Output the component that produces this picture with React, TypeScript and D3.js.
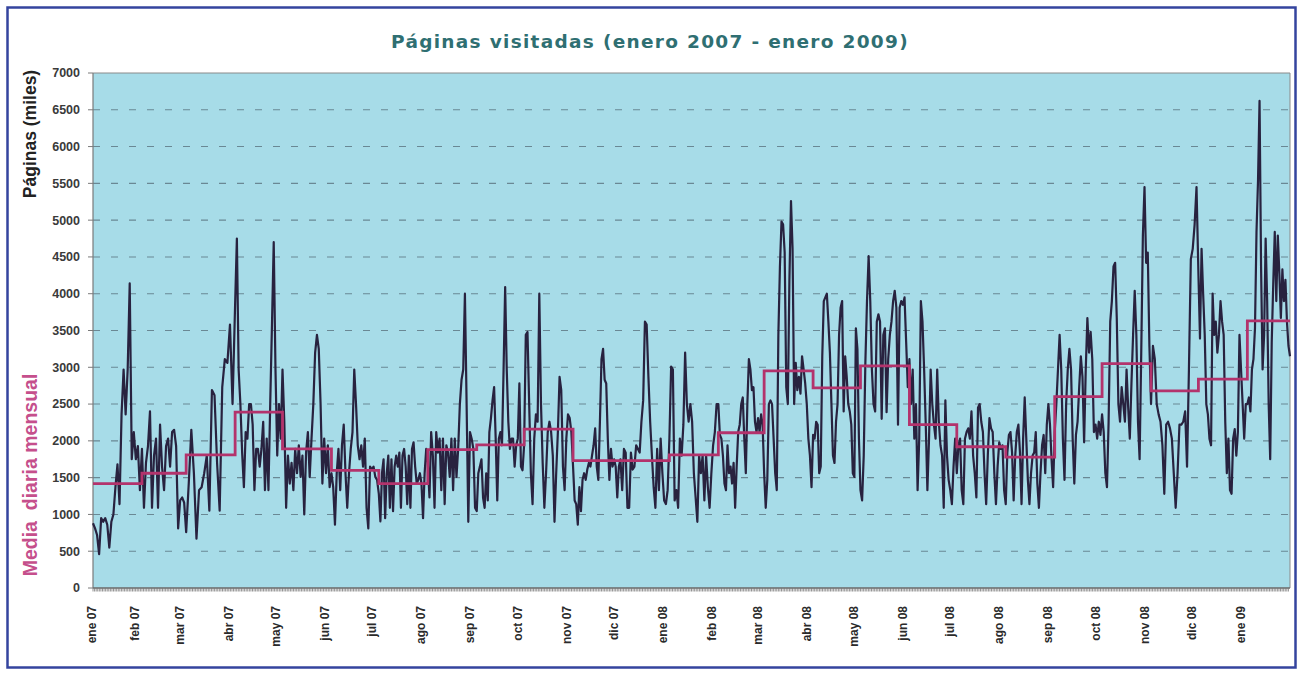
import React from 'react';
import * as d3 from 'd3';

const monthLabels = [
  'ene 07', 'feb 07', 'mar 07', 'abr 07', 'may 07', 'jun 07', 'jul 07', 'ago 07', 'sep 07', 'oct 07', 'nov 07', 'dic 07',
  'ene 08', 'feb 08', 'mar 08', 'abr 08', 'may 08', 'jun 08', 'jul 08', 'ago 08', 'sep 08', 'oct 08', 'nov 08', 'dic 08',
  'ene 09',
];

const monthlyMean = [
  1420, 1560, 1810, 2390, 1890, 1600, 1420, 1880, 1945, 2160, 1730, 1730,
  1810, 2110, 2950, 2720, 3020, 2220, 1920, 1780, 2600, 3050, 2680, 2840,
  3630,
];

const daily2007 = [
  [880, 810, 720, 460, 950, 900, 950, 860, 550, 900, 1000, 1370, 1680, 1140, 2360, 2970, 2360, 2970, 4140, 1750, 2120, 1750, 1930, 1330],
  [1890, 1090, 1700, 1930, 2400, 1090, 1800, 2030, 1090, 2220, 1650, 1330, 1930, 2030, 1650, 2120, 2150, 1930, 810, 1190, 1230, 1160],
  [760, 1420, 2150, 1560, 670, 1330, 1370, 1560, 1800, 1050, 2690, 2620, 1700, 1050, 2730, 3110, 3060, 3580, 2500],
  [3860, 4750, 2970, 2500, 1840, 1370, 2120, 2030, 2500, 2500, 2220, 1330, 1890, 1890, 1650, 1890, 2260, 1330, 2030, 1330, 2500, 3580, 4700, 2970, 1800, 2500, 2030],
  [2970, 2260, 1090, 1800, 1420, 1700, 1330, 1890, 1560, 1940, 1510, 1800, 1000, 1840, 2120, 1510, 2030, 2500, 3200, 3440, 3250, 2500, 1420, 2030, 1560, 1940, 1370],
  [1560, 1370, 860, 1560, 1890, 1330, 1940, 2220, 1560, 1090, 1560, 1890, 2120, 2970, 2500, 1940, 1750, 1940, 1650, 2030, 1090, 810, 1650, 1610, 1650, 1510, 1470],
  [1280, 905, 1560, 1750, 950, 1560, 1800, 1090, 1750, 1045, 1650, 1800, 1650, 1840, 1090, 1800, 1890, 1650, 1140, 1800, 1090, 1890, 1980, 1650, 1420, 1470, 1560, 1420, 950, 1560, 1890],
  [1700, 1230, 2120, 1800, 1090, 2120, 1840, 2030, 1330, 2030, 1140, 1940, 1840, 1510, 2030, 1330, 2030, 1510, 1890, 2500, 2830, 2970, 4000, 2500, 900, 2120, 2030, 1890, 1090],
  [1045, 1560, 1650, 1750, 1230, 1090, 1560, 1190, 2120, 2310, 2550, 2730, 2030, 1190, 2030, 2120, 1940, 2970, 4090, 2970, 2260, 1890, 2030, 2030, 1650, 1940, 2030, 2780, 1650, 1600],
  [1940, 3440, 3480, 2500, 1560, 1140, 2030, 2360, 2260, 4000, 2500, 1700, 1090, 1560, 2120, 2260, 2120, 1800, 900, 1560, 2120, 2870, 2690, 1650, 1330, 2030, 2360, 2310, 2120],
  [1650, 1190, 1140, 860, 1370, 1045, 1470, 1560, 1470, 1610, 1700, 1650, 1800, 1940, 2170, 1650, 1470, 2260, 3110, 3250, 2830, 2780, 2030, 1470, 1890, 1650, 1750, 1650, 1230, 1650],
  [1750, 1330, 1890, 1840, 1090, 1090, 1840, 1610, 1650, 1940, 1890, 1840, 2260, 2550, 3620, 3580, 2870, 2260, 1800, 1370, 1090, 1890, 1330, 2030, 1560, 1190, 1140, 1330],
];

const daily2008 = [
  [2030, 3010, 2970, 1190, 1330, 1090, 2030, 1800, 2220, 3200, 2500, 2260, 2500, 2260, 1560, 1230, 900, 1800, 1560, 1800, 1190, 1800, 1370, 1090, 1560, 1940, 2120, 2500],
  [2500, 2080, 2030, 1800, 1420, 1330, 1940, 1560, 1650, 1420, 1700, 1090, 1650, 2120, 2220, 2500, 2590, 2030, 1560, 2500, 3110, 2970, 2690, 2730, 2260, 2120, 2310, 2120, 2360, 2220],
  [1560, 1090, 1470, 2500, 2550, 2500, 2030, 1560, 1330, 3440, 4370, 4980, 4940, 4560, 2730, 2500, 4190, 5260, 4610, 2500, 3060, 2690, 2870, 2640, 3150, 2970, 2780, 2500, 2030, 1800, 1370],
  [2080, 2030, 2260, 2220, 1560, 1650, 3150, 3900, 3950, 4000, 3620, 3200, 2500, 1800, 1700, 2260, 2500, 3440, 3810, 3900, 2400, 3150, 2870, 2500, 2400, 2220, 1560, 1510, 3530, 3250, 2030],
  [1330, 1190, 1800, 3060, 3900, 4510, 3900, 2970, 2500, 2400, 3620, 3720, 3620, 2300, 3440, 3530, 2390, 3110, 3440, 3620, 3900, 4040, 3810, 2220, 3810, 3900, 3850, 3950, 3340, 2730],
  [3110, 2500, 2970, 2030, 2500, 1330, 2030, 3900, 3620, 2970, 2220, 1330, 2030, 2970, 2500, 2220, 2030, 2970, 2260, 1940, 1800, 1090, 2550, 1800, 1470, 1330, 1140, 1650, 2030],
  [1560, 1940, 2030, 1330, 1140, 2030, 2120, 2170, 2030, 2400, 1800, 1560, 1230, 2450, 2500, 2260, 2120, 1560, 1140, 1800, 2310, 2170, 2120, 1560, 1140, 1650, 1980, 1890, 1940, 1330],
  [1140, 1840, 2080, 2120, 1840, 1190, 1800, 2120, 2220, 1840, 1140, 2030, 2590, 2030, 1470, 1140, 1560, 1800, 1840, 2120, 1420, 1090, 1560, 1940, 2080, 1560, 2220, 2500, 2220, 1750, 1370],
  [2120, 2500, 2970, 3440, 2970, 2030, 1470, 2500, 2970, 3250, 2970, 2030, 1420, 2080, 2260, 2730, 3150, 2870, 1980, 2970, 3670, 3200, 3480, 3110, 2120, 2220, 2030, 2260, 2080],
  [2360, 2120, 1560, 1370, 2260, 3620, 3900, 4370, 4420, 3670, 2500, 2260, 2730, 2500, 2260, 2970, 2450, 2030, 2780, 3440, 4040, 3440, 2260, 1750, 3200, 4790, 5450, 4420, 4560, 3290],
  [2500, 3290, 3110, 2500, 2360, 2260, 1940, 1280, 2220, 2260, 2170, 2030, 1560, 1090, 1560, 2220, 2220, 2260, 2400, 1650, 2970, 4470, 4610, 4940, 5450],
  [4280, 3390, 4610, 4000, 3440, 2500, 2360, 2030, 1940, 4000, 3440, 3620, 3200, 3440, 3900, 3620, 3440, 2260, 1560, 2030, 1330, 1280, 2030, 2160, 1800, 2120, 3440, 2970, 2500, 2030, 2500],
];

const daily2009 = [
  [2500, 2590, 2400, 2970, 3110, 3530, 4840, 5540, 6620, 4370, 2970, 3440, 4750, 3900, 2500, 1750, 3340, 4140, 4840, 3900, 4790, 4280, 3670, 4330, 3900, 4190, 3620, 3290, 3150],
];

const yTicks = [0, 500, 1000, 1500, 2000, 2500, 3000, 3500, 4000, 4500, 5000, 5500, 6000, 6500, 7000];

const W = 1299;
const H = 676;
const P = { left: 93, right: 1290, top: 73, bottom: 588 };

export default function App() {
  const start = new Date(Date.UTC(2007, 0, 1));
  const end = new Date(Date.UTC(2009, 0, 28));
  const x = d3.scaleUtc().domain([start, end]).range([P.left, P.right]);
  const y = d3.scaleLinear().domain([0, 7000]).range([P.bottom, P.top]);

  const monthStarts = monthLabels.map((_, i) => new Date(Date.UTC(2007, i, 1)));
  const months = [...daily2007, ...daily2008, ...daily2009];

  const points: [Date, number][] = [];
  months.forEach((vals, m) => {
    const s = +monthStarts[m];
    const last = m === months.length - 1;
    const e = last ? +end : Date.UTC(2007, m + 1, 1);
    const denom = last ? vals.length - 1 : vals.length;
    vals.forEach((v, i) => {
      points.push([new Date(s + ((e - s) * i) / denom), v]);
    });
  });

  const meanPts: [Date, number][] = monthStarts.map((d, i) => [d, monthlyMean[i]]);
  meanPts.push([end, monthlyMean[monthlyMean.length - 1]]);

  const dailyLine = d3.line<[Date, number]>().x((d) => x(d[0])).y((d) => y(d[1]));
  const meanLine = d3
    .line<[Date, number]>()
    .x((d) => x(d[0]))
    .y((d) => y(d[1]))
    .curve(d3.curveStepAfter);

  const days = d3.utcDay.range(start, end);

  return (
    <svg width={W} height={H} style={{ position: 'absolute', left: 0, top: 0 }} xmlns="http://www.w3.org/2000/svg">
      <rect x={0} y={0} width={W} height={H} fill="#ffffff" />
      <rect x={7.5} y={7.5} width={1288} height={660} fill="#ffffff" stroke="#34449e" strokeWidth={2.5} />

      <text
        x={650}
        y={48}
        textAnchor="middle"
        fontFamily="'DejaVu Sans', Verdana, sans-serif"
        fontWeight="bold"
        fontSize={18.5}
        letterSpacing={1.3}
        fill="#2f6f72"
      >
        Páginas visitadas (enero 2007 - enero 2009)
      </text>

      <rect x={P.left} y={P.top} width={P.right - P.left} height={P.bottom - P.top} fill="#a7dce8" />

      {yTicks
        .filter((t) => t > 0 && t < 7000)
        .map((t) => (
          <line
            key={'g' + t}
            x1={P.left}
            x2={P.right}
            y1={y(t)}
            y2={y(t)}
            stroke="#6a8894"
            strokeWidth={1.1}
            strokeDasharray="7,11"
          />
        ))}

      <line x1={P.left} x2={P.right} y1={P.top} y2={P.top} stroke="#8a8a8a" strokeWidth={1} />
      <line x1={P.right} x2={P.right} y1={P.top} y2={P.bottom} stroke="#8a8a8a" strokeWidth={1} />
      <line x1={P.left} x2={P.left} y1={P.top} y2={P.bottom} stroke="#7a7a7a" strokeWidth={1.2} />

      {yTicks.map((t) => (
        <g key={'t' + t}>
          <line x1={P.left - 5} x2={P.left} y1={y(t)} y2={y(t)} stroke="#7a7a7a" strokeWidth={1} />
          <text
            x={P.left - 13}
            y={y(t)}
            dy="0.35em"
            textAnchor="end"
            fontFamily="'Liberation Sans', Arial, sans-serif"
            fontWeight="bold"
            fontSize={12.5}
            fill="#3a3a3a"
          >
            {t}
          </text>
        </g>
      ))}

      <path d={dailyLine(points) || ''} fill="none" stroke="#28223f" strokeWidth={2.2} strokeLinejoin="round" />
      <path d={meanLine(meanPts) || ''} fill="none" stroke="#b3336c" strokeWidth={2.8} />

      <line x1={P.left} x2={P.right} y1={P.bottom} y2={P.bottom} stroke="#6a6a6a" strokeWidth={1.5} />
      {days.map((d, i) => (
        <line key={'d' + i} x1={x(d)} x2={x(d)} y1={P.bottom} y2={P.bottom + 3.5} stroke="#777" strokeWidth={0.8} />
      ))}

      {monthStarts.map((d, i) => {
        const cx = Math.max(x(d) - 6.5, 92);
        const bx = cx + 4;
        const by = 606;
        return (
          <text
            key={'m' + i}
            transform={`translate(${bx},${by}) rotate(-90)`}
            textAnchor="end"
            fontFamily="'Liberation Sans', Arial, sans-serif"
            fontWeight="bold"
            fontSize={12}
            fill="#2a2a2a"
          >
            {monthLabels[i]}
          </text>
        );
      })}

      <text
        transform="translate(36,134) rotate(-90)"
        textAnchor="middle"
        fontFamily="'Liberation Sans', Arial, sans-serif"
        fontWeight="bold"
        fontSize={17.5}
        fill="#222"
      >
        Páginas (miles)
      </text>
      <text
        transform="translate(37,475) rotate(-90)"
        textAnchor="middle"
        fontFamily="'Liberation Sans', Arial, sans-serif"
        fontWeight="bold"
        fontSize={19.5}
        fill="#c54f8c"
        style={{ whiteSpace: 'pre' }}
      >
        {'Media  diaria mensual'}
      </text>
    </svg>
  );
}
